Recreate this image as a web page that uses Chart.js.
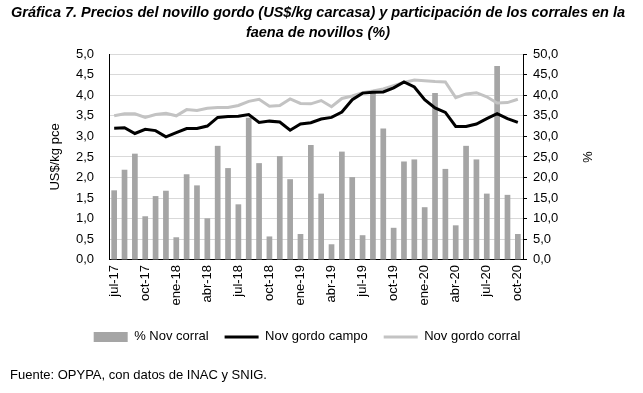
<!DOCTYPE html>
<html lang="es">
<head>
<meta charset="UTF-8">
<title>Gráfica 7</title>
<script src="https://cdn.jsdelivr.net/npm/chart.js"></script>
<style>
  html, body { margin: 0; padding: 0; background: #fff; }
  #caja { position: relative; width: 643px; height: 393px; }
  #titulo {
    position: absolute; top: 2px; left: 4px; width: 628px;
    text-align: center; white-space: nowrap;
    font-family: 'Liberation Sans', Arial, sans-serif;
    font-size: 14.5px; font-weight: bold; font-style: italic;
    line-height: 20px; color: #000;
  }
  #caja canvas { position: absolute; left: 0; top: 0; }
</style>
</head>
<body>
<div id="caja">
    <canvas id="grafica7"></canvas>
    <div id="titulo">Gráfica 7. Precios del novillo gordo (US$/kg carcasa) y participación de los corrales en la<br>faena de novillos (%)</div>
</div>

<script>
    // meses (jul-17 a oct-20)
    const meses = [
        'jul-17', 'ago-17', 'set-17', 'oct-17', 'nov-17', 'dic-17',
        'ene-18', 'feb-18', 'mar-18', 'abr-18', 'may-18', 'jun-18',
        'jul-18', 'ago-18', 'set-18', 'oct-18', 'nov-18', 'dic-18',
        'ene-19', 'feb-19', 'mar-19', 'abr-19', 'may-19', 'jun-19',
        'jul-19', 'ago-19', 'set-19', 'oct-19', 'nov-19', 'dic-19',
        'ene-20', 'feb-20', 'mar-20', 'abr-20', 'may-20', 'jun-20',
        'jul-20', 'ago-20', 'set-20', 'oct-20'
    ];

    // barras, % de novillos de corral en la faena (eje derecho)
    const pctCorral = [
        16.9, 21.9, 25.8, 10.6, 15.5, 16.8,
        5.5, 20.8, 18.1, 10.1, 27.7, 22.3,
        13.5, 34.5, 23.5, 5.7, 25.2, 19.6,
        6.3, 27.9, 16.1, 3.8, 26.3, 20.1,
        6.0, 40.5, 31.9, 7.8, 23.9, 24.4,
        12.8, 40.5, 22.1, 8.4, 27.7, 24.4,
        16.1, 47.1, 15.8, 6.3
    ];

    // linea negra, novillo gordo campo (US$/kg pce)
    const novCampo = [
        3.20, 3.21, 3.07, 3.17, 3.14, 2.99,
        3.09, 3.19, 3.19, 3.25, 3.46, 3.48,
        3.49, 3.53, 3.34, 3.37, 3.35, 3.15,
        3.30, 3.33, 3.42, 3.46, 3.59, 3.89,
        4.05, 4.07, 4.08, 4.18, 4.32, 4.20,
        3.89, 3.69, 3.58, 3.24, 3.24, 3.30,
        3.43, 3.55, 3.43, 3.34
    ];

    // linea gris, novillo gordo corral (US$/kg pce)
    const novCorral = [
        3.50, 3.55, 3.55, 3.46, 3.53, 3.56,
        3.50, 3.65, 3.63, 3.68, 3.70, 3.70,
        3.75, 3.85, 3.90, 3.73, 3.75, 3.91,
        3.80, 3.79, 3.87, 3.72, 3.92, 3.98,
        4.06, 4.10, 4.15, 4.23, 4.31, 4.37,
        4.35, 4.33, 4.32, 3.94, 4.03, 4.06,
        3.96, 3.81, 3.82, 3.90
    ];

    const fuente = 'Fuente: OPYPA, con datos de INAC y SNIG.';

    Chart.defaults.font.family = "'Liberation Sans', Arial, sans-serif";
    Chart.defaults.font.size = 13;
    Chart.defaults.color = '#000000';

    const coma = v => v.toFixed(1).replace('.', ',');

    const data = {
        labels: meses,
        datasets: [
            {
                type: 'bar',
                label: '% Nov corral',
                data: pctCorral,
                yAxisID: 'y1',
                backgroundColor: '#a5a5a5',
                barPercentage: 0.55,
                categoryPercentage: 1,
                order: 3
            },
            {
                type: 'line',
                label: 'Nov gordo campo',
                data: novCampo,
                yAxisID: 'y',
                borderColor: '#000000',
                backgroundColor: '#000000',
                borderWidth: 3,
                pointRadius: 0,
                order: 1
            },
            {
                type: 'line',
                label: 'Nov gordo corral',
                data: novCorral,
                yAxisID: 'y',
                borderColor: '#c3c3c3',
                backgroundColor: '#c3c3c3',
                borderWidth: 3,
                pointRadius: 0,
                order: 2
            }
        ]
    };

    const config = {
        type: 'bar',
        data: data,
        options: {
            responsive: true,
            maintainAspectRatio: false,
            animation: false,
            devicePixelRatio: 1,
            layout: { padding: { left: 10, right: 39, top: 54, bottom: 8 } },
            plugins: {
                tooltip: { enabled: false },
                subtitle: {
                    display: true,
                    text: fuente,
                    position: 'bottom',
                    align: 'start',
                    font: { size: 13 },
                    padding: { top: 14, bottom: 2 }
                },
                legend: {
                    position: 'bottom',
                    labels: {
                        usePointStyle: true,
                        pointStyleWidth: 34,
                        boxHeight: 10,
                        padding: 16,
                        generateLabels: chart => {
                            const items = Chart.defaults.plugins.legend.labels.generateLabels(chart);
                            items.sort((a, b) => a.datasetIndex - b.datasetIndex);
                            items.forEach(it => { it.pointStyle = it.datasetIndex === 0 ? 'rect' : 'line'; });
                            return items;
                        }
                    }
                }
            },
            scales: {
                x: {
                    grid: { display: false, drawTicks: false },
                    border: { display: true, color: '#000000', width: 1 },
                    ticks: {
                        autoSkip: false,
                        maxRotation: 90,
                        minRotation: 90,
                        padding: 5,
                        callback: (v, i) => i % 3 === 0 ? meses[i] : ''
                    },
                    afterFit: s => { s.height += 4; }
                },
                y: {
                    position: 'left',
                    min: 0,
                    max: 5,
                    ticks: { stepSize: 0.5, padding: 15, callback: coma },
                    grid: { color: '#d9d9d9', drawTicks: false },
                    border: { display: true, color: '#000000' },
                    title: { display: true, text: 'US$/kg pce', font: { size: 13 }, padding: { top: 38, bottom: 0 } },
                    afterFit: s => { s.width = 99; }
                },
                y1: {
                    position: 'right',
                    min: 0,
                    max: 50,
                    ticks: { stepSize: 5, padding: 6, callback: coma },
                    grid: { drawOnChartArea: false, tickLength: 4, tickColor: '#000000' },
                    border: { display: true, color: '#000000' },
                    title: { display: true, text: '%', font: { size: 13 }, padding: { top: 10, bottom: 0 } },
                    afterFit: s => { s.width = 81; }
                }
            }
        }
    };

    const grafica7 = new Chart(document.getElementById('grafica7'), config);
</script>
</body>
</html>
